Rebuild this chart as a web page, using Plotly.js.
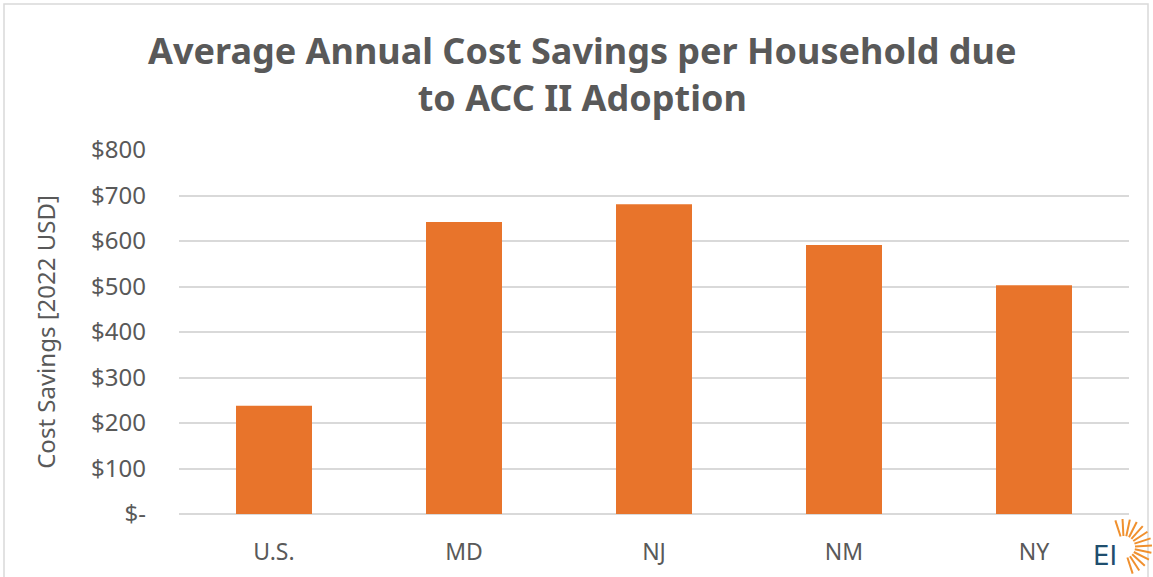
<!DOCTYPE html>
<html><head><meta charset="utf-8">
<script src="https://cdn.plot.ly/plotly-3.0.1.min.js"></script>
<style>body{margin:0;background:#fff}#c{width:1153px;height:577px}</style>
</head><body><div id="c"></div>
<script>
const categories = ["U.S.", "MD", "NJ", "NM", "NY"];
const savings = [238, 642, 681, 591, 503];
const yTickVals = [0, 100, 200, 300, 400, 500, 600, 700, 800];
const yTickText = ["$-", "$100", "$200", "$300", "$400", "$500", "$600", "$700", "$800"];

const font = "Century Gothic, 'Noto Sans', 'DejaVu Sans', sans-serif";
const grey = "#595959";

const trace = {
  type: "bar", x: categories, y: savings,
  marker: {color: "#E8742B"}, hoverinfo: "x+y"
};

const px = (X) => (X - 179) / 950;
const py = (Y) => (514 - Y) / 364;
const shapes = [];
for (let i = 0; i < 13; i++) {
  const a = (-108 + i * 15) * Math.PI / 180;
  const ox = 1124, oy = 547;
  shapes.push({type: "line", xref: "paper", yref: "paper", layer: "above",
    x0: px(ox + Math.cos(a) * 11), y0: py(oy + Math.sin(a) * 11),
    x1: px(ox + Math.cos(a) * 28), y1: py(oy + Math.sin(a) * 28),
    line: {color: "#F0902E", width: 2}});
}
shapes.push({type: "rect", xref: "paper", yref: "paper",
  x0: px(4), x1: px(1148), y0: py(4), y1: py(590),
  line: {color: "#D9D9D9", width: 1.5}, layer: "below"});

const layout = {
  width: 1153, height: 577,
  margin: {l: 179, r: 24, t: 150, b: 63},
  paper_bgcolor: "#fff", plot_bgcolor: "#fff",
  title: {text: "Average Annual Cost Savings per Household due<br>to ACC II Adoption",
    font: {family: font, size: 36, color: grey, weight: "bold"},
    x: 0.505, xanchor: "center", y: 0.889, yanchor: "middle"},
  bargap: 0.6,
  showlegend: false,
  xaxis: {type: "category", tickfont: {family: font, size: 23, color: grey},
    ticks: "", showline: false, showgrid: false, ticklabelstandoff: 22},
  yaxis: {range: [0, 800], tickvals: yTickVals, ticktext: yTickText,
    tickfont: {family: font, size: 24, color: grey},
    showgrid: true, gridcolor: "#D9D9D9", gridwidth: 1.5, zeroline: true,
    zerolinecolor: "#D9D9D9", zerolinewidth: 1.5, showline: false, ticks: "",
    ticklabelstandoff: 32,
    title: {text: "Cost Savings [2022 USD]", font: {family: font, size: 24, color: grey}, standoff: 28}},
  shapes: shapes,
  annotations: [{text: "EI", xref: "paper", yref: "paper", x: px(1105), y: py(556),
    xanchor: "center", yanchor: "middle", showarrow: false,
    font: {family: "'DejaVu Sans', sans-serif", size: 26, color: "#1F4E6E"}}]
};
Plotly.newPlot("c", [trace], layout, {displayModeBar: false});
</script></body></html>
